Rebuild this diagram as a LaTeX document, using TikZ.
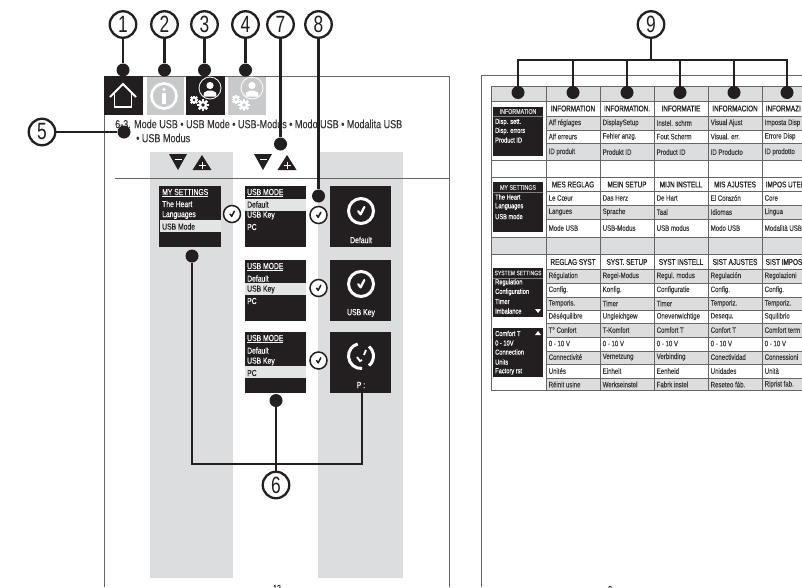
\documentclass[tikz,border=0pt]{standalone}
\usepackage{fontspec}
\setmainfont{Liberation Sans}
\newfontfamily\cond[FakeStretch=0.78,FakeBold=0.25]{Liberation Sans}
\newfontfamily\condb[FakeStretch=0.76,FakeBold=0.7]{Liberation Sans}
\newfontfamily\condn[FakeStretch=0.74]{Liberation Sans}
\definecolor{ink}{HTML}{231F20}
\definecolor{pale}{HTML}{DCDDDE}
\definecolor{iconpale}{HTML}{C8C9CA}
\definecolor{rule}{HTML}{666666}
\definecolor{tabtext}{HTML}{3A3A3A}
\tikzset{
  num/.style={circle,draw=ink,line width=2.3pt,fill=white,inner sep=0pt,minimum size=26.5pt,font=\condn\fontsize{23.5}{23.5}\selectfont,text=ink},
  dot/.style={circle,fill=ink,inner sep=0pt,minimum size=13pt},
  lead/.style={draw=ink,line width=2.8pt},
  box/.style={anchor=north west,inner sep=0pt,outer sep=0pt,draw=none},
  blk/.style={box,fill=ink},
  hl/.style={box,fill=pale!80!white},
  menu/.style={anchor=west,inner sep=0pt,font=\cond\fontsize{8.7}{9}\selectfont},
  body/.style={anchor=west,inner sep=0pt,font=\cond\fontsize{11.6}{12}\selectfont,text=ink!90!white},
  cell/.style={anchor=west,inner sep=0pt,font=\cond\fontsize{7.8}{8}\selectfont,text=tabtext},
  ttl/.style={anchor=center,inner sep=0pt,font=\condb\fontsize{8.4}{9}\selectfont,text=ink},
  ttlw/.style={anchor=west,inner sep=0pt,font=\condb\fontsize{8.4}{9}\selectfont,text=ink},
  tick/.style={circle,draw=ink,line width=1.5pt,fill=white,inner sep=0pt,minimum size=17pt},
}
\usetikzlibrary{calc}
% check mark inside a circle
\newcommand{\tickat}[4]{\draw[#3,line width=#4,line cap=round,line join=round] ($(#1)+(-0.36*#2,0.02*#2)$) -- ($(#1)+(-0.05*#2,0.42*#2)$) -- ($(#1)+(0.42*#2,-0.5*#2)$);}
\newcommand{\gearat}[4]{% x y radius bg
  \fill[white] (#1,#2) circle (#3pt);
  \foreach \a in {0,45,...,315}{\fill[white,shift={(#1,#2)},rotate=\a] (-0.28*#3,-1.35*#3) rectangle (0.28*#3,1.35*#3);}
  \fill[#4] (#1,#2) circle (0.42*#3pt);
}
\newcommand{\tabrow}[7]{% y, colour style, texts
  \foreach \t [count=\i from 0] in {#3,#4,#5,#6,#7}{
    \node[#2] (tb-#1-\i) at ({546+54*\i+2.5},#1) {\t};
  }
}
\newcommand{\titlerow}[6]{%
  \foreach \t [count=\i from 0] in {#2,#3,#4,#5}{
    \node[ttl] (tt-#1-\i) at ({546+54*\i+27},#1) {\t};
  }
  \node[ttlw] (tt-#1-4) at (765.5,#1) {#6};
}
\begin{document}
\begin{tikzpicture}[x=1pt,y=-1pt]
\useasboundingbox (0,0) rectangle (802,587);
\clip (0,0) rectangle (802,587);
% left page
\fill[pale] (150,152) rectangle (233,578);
\fill[pale] (318,152) rectangle (403,578);
\draw[rule,line width=.7pt] (104.5,587) -- (104.5,76) -- (449.5,76) -- (449.5,587);
\draw[rule,line width=.7pt] (115,178) -- (449,178);
\node[font=\cond\fontsize{9}{9}\selectfont,text=ink] (pg12) at (277,588) {12};
% icons
\node[blk,minimum width=39pt,minimum height=39pt] (ic1) at (104,76) {};
\node[box,fill=iconpale,minimum width=37pt,minimum height=38pt] (ic2) at (147,76.5) {};
\node[blk,minimum width=39pt,minimum height=39pt] (ic3) at (186,76) {};
\node[box,fill=iconpale,minimum width=38pt,minimum height=38pt] (ic4) at (228,76.5) {};
\draw[white,line width=1.8pt,line join=miter] (110,97) -- (123,84) -- (136,97);
\draw[white,line width=1.8pt] (114.5,93) -- (114.5,107) -- (131.5,107) -- (131.5,93);
\draw[white,line width=2.6pt] (164,96) circle (12.5pt);
\fill[white] (164,89.5) circle (1.9pt);
\fill[white] (162.2,93) rectangle (165.8,104);
\foreach \cx/\bg in {210/ink,252/iconpale}{
  \draw[white,line width=.8pt] (\cx,88) circle (11pt);
  \fill[white] (\cx,85.5) circle (3.6pt);
  \fill[white] (\cx-6.5,96.5) -- (\cx-6,92.5) -- (\cx-2,90.5) -- (\cx+2,90.5) -- (\cx+6,92.5) -- (\cx+6.5,96.5) -- cycle;
}
\gearat{194}{100}{3.2}{ink}
\gearat{203}{105}{4.2}{ink}
\gearat{236}{99.5}{3.2}{iconpale}
\gearat{244}{105}{4.2}{iconpale}
% heading
\node[body] (h1) at (115,124) {6-3. Mode USB • USB Mode • USB-Modus • Modo USB • Modalita USB};
\node[body] (h2) at (136,138) {• USB Modus};
% triangles
\foreach \x in {169,254}{
  \fill[ink] (\x,154) -- (\x+18,154) -- (\x+9,170) -- cycle;
  \draw[white,line width=.9pt] (\x+5.5,159) -- (\x+12.5,159);
  \fill[ink] (\x+23.5,170) -- (\x+42.5,170) -- (\x+33,155) -- cycle;
  \draw[white,line width=.9pt] (\x+29.5,165) -- (\x+36.5,165) (\x+33,161.5) -- (\x+33,168.5);
}
% menu 1
\node[blk,minimum width=62pt,minimum height=61pt] (m1) at (159,186) {};
\node[hl,minimum width=61pt,minimum height=12pt] (m1h) at (160,220) {};
\node[menu,text=white] (m1a) at (162,193) {\underline{MY SETTINGS}};
\node[menu,text=white] (m1b) at (162,204) {The Heart};
\node[menu,text=white] (m1c) at (162,215) {Languages};
\node[menu,text=ink] (m1d) at (162,226.5) {USB Mode};
% menus 2-4
\foreach \nm/\yy/\hy/\lab in {a/186/199/Default,b/260/283/USB Key,c/332/366/PC}{
  \node[blk,minimum width=61pt,minimum height=61pt] (u\nm) at (245,\yy) {};
  \node[hl,minimum width=61pt,minimum height=12pt] (u\nm h) at (245,\hy) {};
  \node[blk,minimum width=61pt,minimum height=61pt] (r\nm) at (330,\yy) {};
}
\foreach \nm/\yy/\ha/\hb/\hc in {a/186/ink/white/white,b/260/white/ink/white,c/332/white/white/ink}{
  \node[menu,text=white] (ut\nm) at (247,\yy+7) {\underline{USB MODE}};
  \node[menu,text=\ha] (ua\nm) at (247,\yy+18.5) {Default};
  \node[menu,text=\hb] (ub\nm) at (247,\yy+29.5) {USB Key};
  \node[menu,text=\hc] (uc\nm) at (247,\yy+41) {PC};
}
% small ticks
\node[tick] (k1) at (232,214) {};
\node[tick] (k2) at (318.5,215) {};
\node[tick] (k3) at (318.5,288) {};
\node[tick] (k4) at (318.5,360.5) {};
\foreach \k in {k1,k2,k3,k4}{\tickat{\k}{5.5}{ink}{1.5pt}}
% big ticks
\coordinate (ca) at (361,211);
\coordinate (cb) at (361,284);
\coordinate (cc) at (361,356);
\draw[white,line width=3pt] (ca) circle (12.5pt);
\draw[white,line width=3pt] (cb) circle (12.5pt);
\tickat{ca}{8}{white}{2.2pt}
\tickat{cb}{8}{white}{2.2pt}
\draw[white,line width=3pt] ($(cc)+(-85:12.5pt)$) arc[start angle=-85,end angle=-255,radius=12.5pt];
\draw[white,line width=3pt] ($(cc)+(-50:12.5pt)$) arc[start angle=-50,end angle=50,radius=12.5pt];
\draw[white,line width=1.8pt] ($(cc)+(-4,1)$) -- ($(cc)+(-1,5)$) -- ($(cc)+(1,4)$);
\draw[white,line width=1.8pt] ($(cc)+(3,-1)$) -- ($(cc)+(5,-6)$);
\node[font=\cond\fontsize{8.8}{9}\selectfont,text=white] (la) at (361,240) {Default};
\node[font=\cond\fontsize{8.8}{9}\selectfont,text=white] (lb) at (361,313) {USB Key};
\node[font=\cond\fontsize{8.8}{9}\selectfont,text=white] (lc) at (361,385) {P :};
% right page
\draw[rule,line width=.7pt] (481,587) -- (481,75.5) -- (802,75.5);
\node[font=\cond\fontsize{9}{9}\selectfont,text=ink] (pg3) at (610,589) {3};
\fill[pale] (491,86) rectangle (802,101);
\fill[pale] (546,116) rectangle (802,130);
\fill[pale] (546,143) rectangle (802,160.5);
\fill[pale] (546,205) rectangle (802,219);
\fill[pale] (491,237) rectangle (802,254.5);
\foreach \a/\b in {269/283,297/310,323.5/337,351/364.5,378/390.5}{\fill[pale] (546,\a) rectangle (802,\b);}
\foreach \y in {101,116,130,143,160.5,177,191,205,219,237,254.5,269,283,297,310,323.5,337,351,364.5,378}{
  \draw[rule,line width=.5pt] (546,\y) -- (802,\y);
}
\foreach \y in {86,390.5}{\draw[rule,line width=.8pt] (491,\y) -- (802,\y);}
\foreach \y in {101,160.5,177,237,254.5}{\draw[rule,line width=.5pt] (491,\y) -- (546,\y);}
\draw[rule,line width=.8pt] (491,86) -- (491,390.5);
\foreach \x in {546,600,654,708,762}{\draw[rule,line width=.8pt] (\x,86) -- (\x,390.5);}
% table black boxes
\node[blk,minimum width=50pt,minimum height=49.5pt] (s1) at (493,106.5) {};
\node[blk,minimum width=50pt,minimum height=50pt] (s2) at (493,182) {};
\node[blk,minimum width=50pt,minimum height=49.5pt] (s3) at (493,267.5) {};
\node[blk,minimum width=50pt,minimum height=49.5pt] (s4) at (493,327.5) {};
\tikzset{mini/.style={anchor=west,inner sep=0pt,text=white,font=\cond\fontsize{7.3}{8}\selectfont}}
\node[anchor=center,inner sep=0pt,text=white!85!black,font=\cond\fontsize{6.8}{7}\selectfont] (s1t) at (518,111.5) {INFORMATION};
\draw[white!50!black,line width=.4pt] (493,116) -- (543,116);
\node[mini] (s1a) at (495,122) {Disp. sett.};
\node[mini] (s1b) at (495,131) {Disp. errors};
\node[mini] (s1c) at (495,140) {Product ID};
\node[anchor=center,inner sep=0pt,text=white!85!black,font=\cond\fontsize{6.8}{7}\selectfont] (s2t) at (518,187.5) {MY SETTINGS};
\draw[white!50!black,line width=.4pt] (493,192) -- (543,192);
\node[mini] (s2a) at (495,197) {The Heart};
\node[mini] (s2b) at (495,206.5) {Languages};
\node[mini] (s2c) at (495,216.5) {USB mode};
\node[anchor=center,inner sep=0pt,text=white!85!black,font=\cond\fontsize{6.4}{7}\selectfont] (s3t) at (518,273) {SYSTEM SETTINGS};
\draw[white!50!black,line width=.4pt] (493,278) -- (543,278);
\node[mini] (s3a) at (495,282.5) {Regulation};
\node[mini] (s3b) at (495,292) {Configuration};
\node[mini] (s3c) at (495,301.5) {Timer};
\node[mini] (s3d) at (495,311) {Imbalance};
\fill[white] (535,309) -- (541,309) -- (538,313) -- cycle;
\node[mini] (s4a) at (495,333.5) {Comfort T};
\node[mini] (s4b) at (495,343) {0 - 10V};
\node[mini] (s4c) at (495,352) {Connection};
\node[mini] (s4d) at (495,362) {Units};
\node[mini] (s4e) at (495,371.5) {Factory rst};
\fill[white] (535,335) -- (541,335) -- (538,331) -- cycle;
% table text
\titlerow{108.5}{INFORMATION}{INFORMATION.}{INFORMATIE}{INFORMACION}{INFORMAZI}
\tabrow{123}{cell}{Aff réglages}{DisplaySetup}{Instel. schrm}{Visual Ajust}{Imposta Disp}
\tabrow{136.5}{cell}{Aff erreurs}{Fehler anzg.}{Fout Scherm}{Visual. err.}{Errore Disp}
\tabrow{152}{cell}{ID produit}{Produkt ID}{Product ID}{ID Producto}{ID prodotto}
\titlerow{184.5}{MES REGLAG}{MEIN SETUP}{MIJN INSTELL}{MIS AJUSTES}{IMPOS UTEN}
\tabrow{198}{cell}{Le Cœur}{Das Herz}{De Hart}{El Corazón}{Core}
\tabrow{212}{cell}{Langues}{Sprache}{Taal}{Idiomas}{Lingua}
\tabrow{228}{cell}{Mode USB}{USB-Modus}{USB modus}{Modo USB}{Modalità USB}
\titlerow{262}{REGLAG SYST}{SYST. SETUP}{SYST INSTELL}{SIST AJUSTES}{SIST IMPOS}
\tabrow{276}{cell}{Régulation}{Regel-Modus}{Regul. modus}{Regulación}{Regolazioni}
\tabrow{290}{cell}{Config.}{Konfig.}{Configuratie}{Config.}{Config.}
\tabrow{303.5}{cell}{Temporis.}{Timer}{Timer}{Temporiz.}{Temporiz.}
\tabrow{316.5}{cell}{Déséquilibre}{ Ungleichgew}{Onevenwichtige}{Desequ.}{Squilibrio}
\tabrow{330}{cell}{T° Confort}{T-Komfort}{Comfort T}{Confort T}{Comfort term}
\tabrow{343.5}{cell}{0 - 10 V}{0 - 10 V}{0 - 10 V}{0 - 10 V}{0 - 10 V}
\tabrow{357}{cell}{Connectivité}{Vernetzung}{Verbinding}{Conectividad}{Connessioni}
\tabrow{371}{cell}{Unités}{Einheit}{Eenheid}{Unidades}{Unità}
\tabrow{384.5}{cell}{Réinit usine}{Werkseinstel}{Fabrk instel}{Reseteo fáb.}{Riprist fab.}
% callouts
\foreach \n/\x/\dy in {1/123/70,2/164.5/70,3/204.5/70,4/245.5/70,7/280.5/144,8/318.5/196}{
  \node[dot] (d\n) at (\x,\dy) {};
  \node[num] (n\n) at (\x,24.5) {\n};
  \draw[lead] (n\n) -- (d\n);
}
\node[dot] (d5) at (124,132) {};
\node[num] (n5) at (42,132) {5};
\draw[lead] (n5) -- (d5);
% 6
\node[dot] (d6a) at (192,256) {};
\node[dot] (d6b) at (276,400.5) {};
\node[num] (n6) at (276,485) {6};
\coordinate (e6) at (362,393);
\coordinate (j6) at (276,464);
\draw[lead,line join=miter] (d6a) -- (d6a |- j6) -- (e6 |- j6) -- (e6);
\draw[lead] (d6b) -- (n6);
% 9
\node[num] (n9) at (651,24.5) {9};
\coordinate (j9) at (651,60);
\draw[lead] (n9) -- (j9);
\foreach \i/\x in {1/518,2/573,3/627,4/680,5/734,6/787}{
  \node[dot] (t\i) at (\x,92.5) {};
}
\draw[lead,line join=miter] (t1) -- (t1 |- j9) -- (t6 |- j9) -- (t6);
\foreach \i in {2,3,4,5}{\draw[lead] (t\i |- j9) -- (t\i);}
\end{tikzpicture}
\end{document}
